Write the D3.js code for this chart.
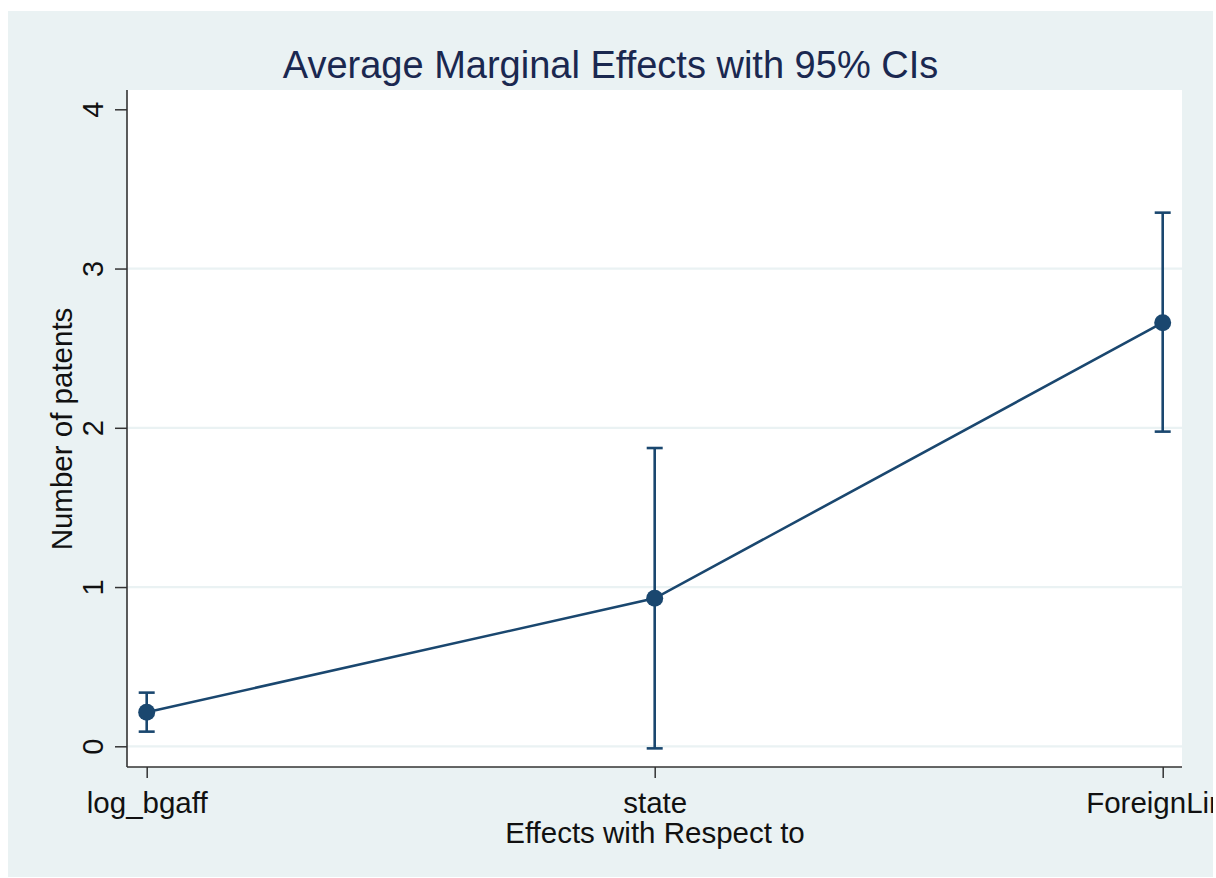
<!DOCTYPE html>
<html>
<head>
<meta charset="utf-8">
<script src="https://cdn.jsdelivr.net/npm/d3@7"></script>
<style>
  html, body { margin: 0; padding: 0; background: #ffffff; }
  svg { display: block; }
  text { font-family: "Liberation Sans", Arial, sans-serif; }
</style>
</head>
<body>
<svg id="chart" width="1216" height="878"></svg>
<script>
// Average marginal effects and 95% confidence bounds
const categories = ["log_bgaff", "state", "ForeignLink"];
const effects    = [0.214, 0.929, 2.660];
const ciLower    = [0.092, -0.013, 1.976];
const ciUpper    = [0.337, 1.873, 3.351];
const yTicks     = [0, 1, 2, 3, 4];

const titleText  = "Average Marginal Effects with 95% CIs";
const yTitle     = "Number of patents";
const xTitle     = "Effects with Respect to";

const navy = "#1A476F";
const panelBg = "#EAF2F3";

const svg = d3.select("#chart");

// graph region
const region = { x: 8, y: 11, w: 1205, h: 866 };
// plot region
const plot = { left: 127, right: 1182, top: 90, bottom: 767 };

svg.append("defs").append("clipPath").attr("id", "regionClip")
  .append("rect").attr("x", region.x).attr("y", region.y)
  .attr("width", region.w).attr("height", region.h);

svg.append("rect")
  .attr("x", region.x).attr("y", region.y)
  .attr("width", region.w).attr("height", region.h)
  .attr("fill", panelBg);

svg.append("rect")
  .attr("x", plot.left).attr("y", plot.top)
  .attr("width", plot.right - plot.left).attr("height", plot.bottom - plot.top)
  .attr("fill", "#ffffff");

const x = d3.scalePoint().domain(categories).range([146.7, 1162.7]);
const y = d3.scaleLinear().domain([0, 4]).range([746.3, 109.3]);

const g = svg.append("g").attr("clip-path", "url(#regionClip)");

// horizontal grid lines
g.append("g").selectAll("line").data(yTicks.filter(d => d < 4)).join("line")
  .attr("x1", plot.left).attr("x2", plot.right)
  .attr("y1", d => y(d)).attr("y2", d => y(d))
  .attr("stroke", panelBg).attr("stroke-width", 2.2);

// y axis
const yAxis = d3.axisLeft(y).tickValues(yTicks).tickSize(12).tickPadding(0).tickFormat(d3.format("d"));
const yg = g.append("g").attr("transform", `translate(${plot.left},0)`).call(yAxis);
yg.select(".domain").remove();
yg.selectAll(".tick line").attr("stroke", "#333").attr("stroke-width", 1.5);
yg.selectAll(".tick text")
  .attr("x", null).attr("dy", null)
  .attr("transform", "translate(-24,0) rotate(-90)")
  .attr("text-anchor", "middle")
  .attr("fill", "#111")
  .style("font-size", "29px")
  .style("font-family", "'Liberation Sans', Arial, sans-serif");
g.append("line")
  .attr("x1", plot.left).attr("x2", plot.left)
  .attr("y1", plot.top).attr("y2", plot.bottom)
  .attr("stroke", "#333").attr("stroke-width", 1.6);

// x axis
const xAxis = d3.axisBottom(x).tickSize(11).tickPadding(0);
const xg = g.append("g").attr("transform", `translate(0,${plot.bottom})`).call(xAxis);
xg.select(".domain").remove();
xg.selectAll(".tick line").attr("stroke", "#333").attr("stroke-width", 1.5);
xg.selectAll(".tick text")
  .attr("y", 46).attr("dy", null)
  .attr("fill", "#111")
  .style("font-size", "29.5px")
  .style("font-family", "'Liberation Sans', Arial, sans-serif");
g.append("line")
  .attr("x1", plot.left).attr("x2", plot.right)
  .attr("y1", plot.bottom).attr("y2", plot.bottom)
  .attr("stroke", "#333").attr("stroke-width", 1.6);

// confidence intervals
const capHalf = 8;
const ci = g.append("g").attr("stroke", navy).attr("stroke-width", 2.6).attr("fill", "none");
categories.forEach((c, i) => {
  ci.append("line").attr("x1", x(c)).attr("x2", x(c)).attr("y1", y(ciLower[i])).attr("y2", y(ciUpper[i]));
  ci.append("line").attr("x1", x(c) - capHalf).attr("x2", x(c) + capHalf).attr("y1", y(ciLower[i])).attr("y2", y(ciLower[i]));
  ci.append("line").attr("x1", x(c) - capHalf).attr("x2", x(c) + capHalf).attr("y1", y(ciUpper[i])).attr("y2", y(ciUpper[i]));
});

// connecting line and point estimates
const line = d3.line().x((d, i) => x(categories[i])).y(d => y(d));
g.append("path").datum(effects)
  .attr("d", line).attr("fill", "none")
  .attr("stroke", navy).attr("stroke-width", 2.6);
g.append("g").selectAll("circle").data(effects).join("circle")
  .attr("cx", (d, i) => x(categories[i])).attr("cy", d => y(d))
  .attr("r", 8.5).attr("fill", navy);

// titles
svg.append("text")
  .attr("x", 610.5).attr("y", 78)
  .attr("text-anchor", "middle")
  .attr("fill", "#1a2850")
  .style("font-size", "38px")
  .text(titleText);

svg.append("text")
  .attr("x", 655).attr("y", 843)
  .attr("text-anchor", "middle")
  .attr("fill", "#111")
  .style("font-size", "29.5px")
  .text(xTitle);

svg.append("text")
  .attr("transform", "translate(71.5,429) rotate(-90)")
  .attr("text-anchor", "middle")
  .attr("fill", "#111")
  .style("font-size", "29.5px")
  .text(yTitle);
</script>
</body>
</html>
